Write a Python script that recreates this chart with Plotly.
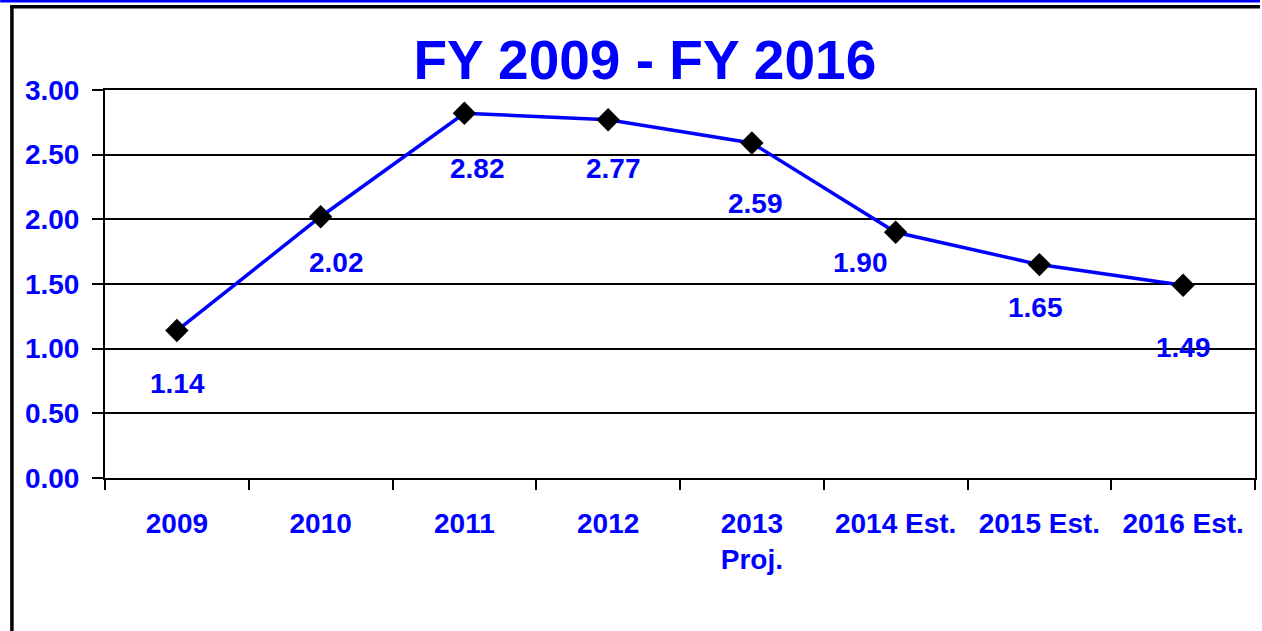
import plotly.graph_objects as go

categories = ["2009", "2010", "2011", "2012", "2013<br>Proj.", "2014 Est.", "2015 Est.", "2016 Est."]
values = [1.14, 2.02, 2.82, 2.77, 2.59, 1.90, 1.65, 1.49]
labels = ["1.14", "2.02", "2.82", "2.77", "2.59", "1.90", "1.65", "1.49"]
y_ticks = [0, 0.5, 1.0, 1.5, 2.0, 2.5, 3.0]
y_tick_text = ["0.00", "0.50", "1.00", "1.50", "2.00", "2.50", "3.00"]
# label offsets in pixels (style)
label_dx = [1, 16, 13, 5, 4, -35, -4, 0]
label_dy = [-53, -46, -55, -49, -60, -30, -43, -62]

BLUE = "#0000FF"
FONT = "Liberation Sans, Arial, sans-serif"

fig = go.Figure()
fig.add_trace(go.Scatter(
    x=list(range(len(categories))), y=values, mode="lines+markers",
    line=dict(color=BLUE, width=3.5),
    marker=dict(symbol="diamond", size=18, color="black"),
    showlegend=False, cliponaxis=False,
))

for i, (v, t, dx, dy) in enumerate(zip(values, labels, label_dx, label_dy)):
    fig.add_annotation(x=i, y=v, text="<b>%s</b>" % t, showarrow=False,
                       xshift=dx, yshift=dy,
                       font=dict(family=FONT, size=28, color=BLUE))

W, H = 1262, 631
L, R, T, B = 105, 5, 90, 153
pw, ph = W - L - R, H - T - B

def px(x):
    return (x - L) / pw

def py(y):
    return (H - B - y) / ph

shapes = [
    dict(type="rect", xref="paper", yref="paper", x0=px(0), x1=px(W), y0=py(2.5), y1=py(0),
         fillcolor=BLUE, line=dict(width=0)),
    dict(type="rect", xref="paper", yref="paper", x0=px(10), x1=px(W), y0=py(8.5), y1=py(5),
         fillcolor="black", line=dict(width=0)),
    dict(type="rect", xref="paper", yref="paper", x0=px(10), x1=px(13.5), y0=py(H), y1=py(5),
         fillcolor="black", line=dict(width=0)),
]

fig.update_layout(
    width=W, height=H,
    margin=dict(l=L, r=R, t=T, b=B),
    paper_bgcolor="white", plot_bgcolor="white",
    title=dict(text="<b>FY 2009 - FY 2016</b>", x=0.511, xanchor="center",
               y=1 - 60 / H, yanchor="middle",
               font=dict(family=FONT, size=55, color=BLUE)),
    shapes=shapes,
    xaxis=dict(
        tickmode="array", tickvals=list(range(len(categories))), ticktext=["<b>%s</b>" % c for c in categories],
        ticks="", showline=True, linecolor="black", linewidth=2, mirror=True,
        showgrid=False, zeroline=False,
        tickfont=dict(family=FONT, size=28, color=BLUE),
        ticklabelstandoff=19,
        range=[-0.5, 7.5], fixedrange=True,
        minor=dict(tickmode="array", tickvals=[i - 0.5 for i in range(len(categories) + 1)],
                   ticks="outside", ticklen=10, tickcolor="black", tickwidth=2, showgrid=False),
    ),
    yaxis=dict(
        range=[0, 3], tickvals=y_ticks, ticktext=["<b>%s</b>" % s for s in y_tick_text],
        ticks="outside", ticklen=11, tickcolor="black", tickwidth=2,
        showline=True, linecolor="black", linewidth=2, mirror=True,
        showgrid=True, gridcolor="black", gridwidth=1.5,
        zeroline=False,
        tickfont=dict(family=FONT, size=28, color=BLUE),
        ticklabelstandoff=7, fixedrange=True,
    ),
)

fig.write_html("out.html", config={"displayModeBar": False},
               post_script="document.body.style.margin='0';document.body.style.overflow='hidden';")
